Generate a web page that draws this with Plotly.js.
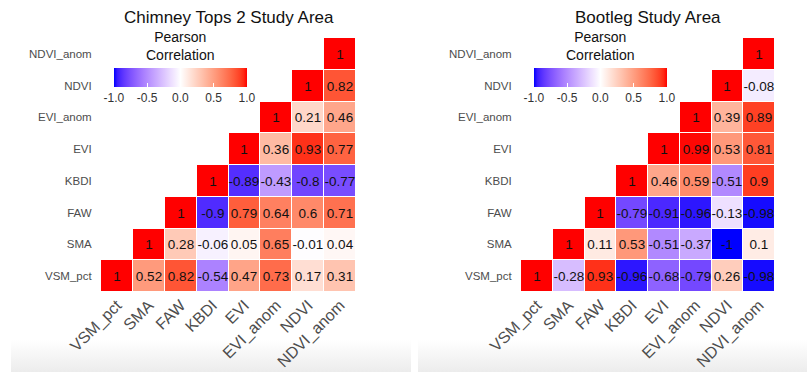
<!DOCTYPE html>
<html>
<head>
<meta charset="utf-8">
<script src="https://cdn.plot.ly/plotly-3.0.1.min.js"></script>
<style>
  html, body { margin:0; padding:0; background:#fff; }
  #wrap { position:relative; width:807px; height:372px; }
  .shade { position:absolute; top:340px; height:32px;
           background:linear-gradient(to bottom, rgba(240,240,240,0), rgba(236,236,236,1)); }
  #chart { position:absolute; left:0; top:0; width:807px; height:372px; }
</style>
</head>
<body>
<div id="wrap">
  <div class="shade" style="left:11px;width:400px;"></div>
  <div class="shade" style="left:418px;width:389px;"></div>
  <div id="chart"></div>
</div>
<script>
// ---- data ----
const variables = ["VSM_pct", "SMA", "FAW", "KBDI", "EVI", "EVI_anom", "NDVI", "NDVI_anom"];
const titleLeft = "Chimney Tops 2 Study Area";
const titleRight = "Bootleg Study Area";
const legendTitle = "Pearson<br>Correlation";
const legendTickVals = [-1, -0.5, 0, 0.5, 1];
const legendTickText = ["-1.0", "-0.5", "0.0", "0.5", "1.0"];

// rows listed from bottom (VSM_pct) to top (NDVI_anom); each row gives values for columns j >= row index
const chimneyVSM_pct   = [1, 0.52, 0.82, -0.54, 0.47, 0.73, 0.17, 0.31];
const chimneySMA       = [1, 0.28, -0.06, 0.05, 0.65, -0.01, 0.04];
const chimneyFAW       = [1, -0.9, 0.79, 0.64, 0.6, 0.71];
const chimneyKBDI      = [1, -0.89, -0.43, -0.8, -0.77];
const chimneyEVI       = [1, 0.36, 0.93, 0.77];
const chimneyEVI_anom  = [1, 0.21, 0.46];
const chimneyNDVI      = [1, 0.82];
const chimneyNDVI_anom = [1];

const bootlegVSM_pct   = [1, -0.28, 0.93, -0.96, -0.68, -0.79, 0.26, -0.98];
const bootlegSMA       = [1, 0.11, 0.53, -0.51, -0.37, -1, 0.1];
const bootlegFAW       = [1, -0.79, -0.91, -0.96, -0.13, -0.98];
const bootlegKBDI      = [1, 0.46, 0.59, -0.51, 0.9];
const bootlegEVI       = [1, 0.99, 0.53, 0.81];
const bootlegEVI_anom  = [1, 0.39, 0.89];
const bootlegNDVI      = [1, -0.08];
const bootlegNDVI_anom = [1];

const chimneyRows = [chimneyVSM_pct, chimneySMA, chimneyFAW, chimneyKBDI, chimneyEVI, chimneyEVI_anom, chimneyNDVI, chimneyNDVI_anom];
const bootlegRows = [bootlegVSM_pct, bootlegSMA, bootlegFAW, bootlegKBDI, bootlegEVI, bootlegEVI_anom, bootlegNDVI, bootlegNDVI_anom];

function buildMatrix(rows) {
  const n = variables.length;
  const z = [], t = [];
  for (let i = 0; i < n; i++) {
    const zr = [], tr = [];
    for (let j = 0; j < n; j++) {
      if (j >= i) { const v = rows[i][j - i]; zr.push(v); tr.push(String(v)); }
      else { zr.push(null); tr.push(""); }
    }
    z.push(zr); t.push(tr);
  }
  return {z, t};
}

// ---- Lab-interpolated diverging colorscale (blue - white - red) ----
function srgbToLin(c){ c/=255; return c<=0.04045? c/12.92 : Math.pow((c+0.055)/1.055,2.4); }
function linToSrgb(c){ c = c<=0.0031308? 12.92*c : 1.055*Math.pow(c,1/2.4)-0.055; return Math.max(0,Math.min(255,Math.round(c*255))); }
const Xn=0.95047, Yn=1.0, Zn=1.08883;
function f(t){ return t>0.008856? Math.cbrt(t) : 7.787*t+16/116; }
function finv(t){ return t>0.206893? t*t*t : (t-16/116)/7.787; }
function rgbToLab(rgb){
  const r=srgbToLin(rgb[0]), g=srgbToLin(rgb[1]), b=srgbToLin(rgb[2]);
  const X=(0.4124*r+0.3576*g+0.1805*b)/Xn, Y=(0.2126*r+0.7152*g+0.0722*b)/Yn, Z=(0.0193*r+0.1192*g+0.9505*b)/Zn;
  const fx=f(X), fy=f(Y), fz=f(Z);
  return [116*fy-16, 500*(fx-fy), 200*(fy-fz)];
}
function labToRgb(lab){
  const fy=(lab[0]+16)/116, fx=fy+lab[1]/500, fz=fy-lab[2]/200;
  const X=finv(fx)*Xn, Y=finv(fy)*Yn, Z=finv(fz)*Zn;
  const r= 3.2406*X-1.5372*Y-0.4986*Z, g=-0.9689*X+1.8758*Y+0.0415*Z, b=0.0557*X-0.2040*Y+1.0570*Z;
  return [linToSrgb(r), linToSrgb(g), linToSrgb(b)];
}
const labBlue=rgbToLab([0,0,255]), labWhite=rgbToLab([255,255,255]), labRed=rgbToLab([255,0,0]);
const colorscale=[];
const NS=40;
for(let k=0;k<=NS;k++){
  const tt=k/NS, v=-1+2*tt;
  const a = v<0? labBlue : labRed, w=Math.abs(v);
  const lab=[labWhite[0]+(a[0]-labWhite[0])*w, labWhite[1]+(a[1]-labWhite[1])*w, labWhite[2]+(a[2]-labWhite[2])*w];
  const c=labToRgb(lab);
  colorscale.push([tt, `rgb(${c[0]},${c[1]},${c[2]})`]);
}

const W=807, H=372;
const FONT="Liberation Sans, Arial, Helvetica, sans-serif";
const leftDom=[101/W, 356/W], rightDom=[521/W, 775/W];
const yDom=[(H-292)/H, (H-38)/H];
const cbLeftX=180.4/W, cbRightX=600.4/W;

function trace(rows, xa, ya, cbx){
  const m=buildMatrix(rows);
  return {
    type:"heatmap", x:variables, y:variables, z:m.z, text:m.t,
    texttemplate:"%{text}", textfont:{family:FONT, size:13.5, color:"#111"},
    xaxis:xa, yaxis:ya, zmin:-1, zmax:1, colorscale:colorscale,
    xgap:1, ygap:1, hoverinfo:"skip",
    colorbar:{
      orientation:"h", x:cbx, xanchor:"center", y:(H-68)/H, yanchor:"top",
      len:133, lenmode:"pixels", thickness:19, thicknessmode:"pixels",
      outlinewidth:0, xpad:0, ypad:0,
      tickvals:legendTickVals, ticktext:legendTickText,
      ticks:"inside", ticklen:4, tickcolor:"#fff", tickwidth:1,
      tickfont:{family:FONT, size:12, color:"#333"},
      title:{text:""}
    }
  };
}

const data=[
  trace(chimneyRows, "x", "y", cbLeftX),
  trace(bootlegRows, "x2", "y2", cbRightX)
];

function xax(dom, anchor){
  return {domain:dom, anchor:anchor, type:"category", showgrid:false, zeroline:false, showline:false,
    tickangle:-45, ticks:"",
    tickfont:{family:FONT, size:16, color:"#4d4d4d"}, fixedrange:true};
}
function yax(anchor){
  return {domain:yDom, anchor:anchor, type:"category", showgrid:false, zeroline:false, showline:false,
    ticks:"outside", ticklen:6, tickcolor:"rgba(0,0,0,0)",
    tickfont:{family:FONT, size:11.5, color:"#4d4d4d"}, fixedrange:true};
}

function ann(text, x, yPx, size){
  return {text:text, x:x, y:1-yPx/H, xref:"paper", yref:"paper", xanchor:"center", yanchor:"middle",
    showarrow:false, borderpad:0, font:{family:FONT, size:size, color:"#111"}};
}

const layout={
  width:W, height:H, margin:{l:0,r:0,t:0,b:0},
  paper_bgcolor:"rgba(0,0,0,0)", plot_bgcolor:"#fff",
  showlegend:false,
  xaxis:xax(leftDom,"y"), yaxis:yax("x"),
  xaxis2:xax(rightDom,"y2"), yaxis2:yax("x2"),
  annotations:[
    ann(titleLeft, (leftDom[0]+leftDom[1])/2, 18, 17),
    ann(titleRight, (rightDom[0]+rightDom[1])/2, 18, 17),
    ann(legendTitle, cbLeftX, 46, 14),
    ann(legendTitle, cbRightX, 46, 14)
  ]
};

Plotly.newPlot("chart", data, layout, {displayModeBar:false, staticPlot:true});
</script>
</body>
</html>
